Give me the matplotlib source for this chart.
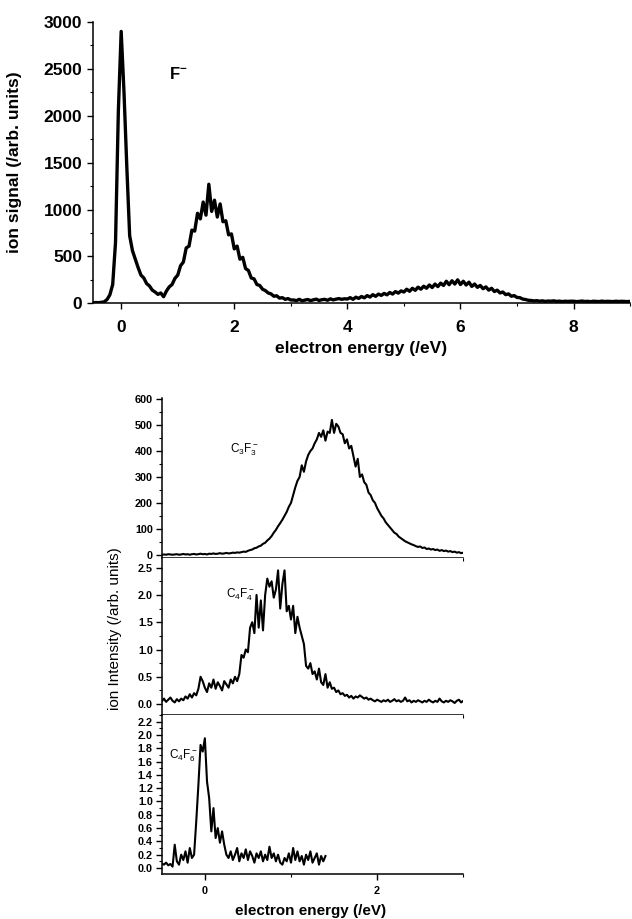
import numpy as np
import matplotlib
matplotlib.use("Agg")
import matplotlib.pyplot as plt
from matplotlib.ticker import MultipleLocator, FormatStrFormatter

plt.rcParams["font.family"] = ["Liberation Sans", "DejaVu Sans"]
plt.rcParams["mathtext.fontset"] = "custom"
plt.rcParams["mathtext.rm"] = "Liberation Sans"
plt.rcParams["mathtext.bf"] = "Liberation Sans:bold"

# F- yield, 0.05 eV steps starting at -0.5 eV
F_STEP, F_START = 0.05, -0.5
f_signal = [
    5, 8, 6, 10, 15, 40, 90, 200, 650, 2050,
    2900, 2250, 1450, 720, 560, 470, 380, 300, 270, 210,
    185, 140, 120, 95, 110, 70,
    130, 175, 200, 265, 300, 400, 440, 590, 610, 780,
    770, 960, 900, 1080, 940, 1270, 980, 1100, 920, 1060,
    870, 880, 730, 740, 580, 610, 470, 490, 370, 350,
    270, 260, 200, 190, 150, 135, 110, 100, 75, 80,
    55, 60, 42, 50, 35,
    35, 28, 42, 26, 34, 40, 28, 37, 44, 30, 38, 42, 32, 47, 36, 44, 50, 42, 48,
    45, 60, 42, 65, 52, 72, 58, 82, 66, 92, 74, 98, 84, 105, 90, 115, 98, 125, 108, 132,
    120, 150, 128, 160, 138, 172, 150, 182, 160, 195, 168, 205, 178, 215, 190, 235, 198, 240, 205, 250,
    200, 235, 195, 225, 180, 205, 170, 190, 155, 175, 140, 160, 125, 140, 110, 120, 92, 100, 75, 82,
    62, 60, 45, 40, 32, 30, 25, 28, 22, 26, 20, 24, 22, 26, 20, 23, 18, 22, 20, 22,
    22, 18, 20, 24, 19, 21, 17, 22, 20, 18, 23, 19, 21, 20, 18, 22, 19, 21, 20, 18, 20,
]

# fragment ions, 0.025 eV steps starting at -0.5 eV
FRAG_STEP, FRAG_START = 0.025, -0.5
c3f3 = [
    0, 1, 0, 2, 1, 0, 1, 2, 0, 1, 3, 1, 2, 0, 2, 3, 1, 2, 4, 2,
    3, 1, 4, 3, 5, 3, 4, 6, 4, 5, 7, 5, 6, 8, 7, 9, 8,
    10, 12, 11, 15, 18, 20, 25, 27, 32, 35, 42, 46, 55, 62, 72, 85, 96, 110, 122, 135,
    150, 165, 185, 200, 230, 260, 285, 300, 345, 320, 360, 385, 400, 410, 430, 445,
    470, 455, 480, 440, 475, 470, 520, 470, 505, 495, 470, 465, 430, 445, 410, 420,
    380, 340, 370, 300, 310, 280, 270, 240, 230, 210, 200, 180, 165, 150, 140, 125,
    115, 105, 95, 85, 80, 70, 64, 58, 52, 48, 44, 40, 37, 33, 30, 32, 26, 28, 22, 24,
    20, 22, 18, 20, 15, 18, 14, 16, 12, 14, 10, 12, 8, 10, 6, 8,
]
c4f4 = [
    0.05, 0.10, 0.04, 0.08, 0.12, 0.06, 0.03, 0.09, 0.05, 0.10, 0.07, 0.14, 0.10, 0.18, 0.12,
    0.20, 0.16, 0.28, 0.50, 0.42, 0.30, 0.22, 0.38, 0.30, 0.45,
    0.28, 0.40, 0.33, 0.25, 0.42, 0.36, 0.30, 0.45, 0.38, 0.50, 0.42, 0.55,
    0.90, 0.85, 1.00, 0.95, 1.40, 1.50, 1.30, 2.00, 1.40, 1.90, 1.35, 2.00,
    2.30, 2.15, 2.25, 1.95, 2.10, 2.45, 1.75, 2.20, 2.45, 1.70, 1.80, 1.55,
    1.80, 1.30, 1.60, 1.40, 1.25, 1.10, 0.70, 0.65, 0.75, 0.55,
    0.60, 0.45, 0.65, 0.40, 0.35, 0.55, 0.30, 0.40, 0.28, 0.30,
    0.22, 0.25, 0.18, 0.20, 0.15, 0.17, 0.12, 0.15, 0.10, 0.14,
    0.12, 0.16, 0.13, 0.10, 0.12, 0.08, 0.10, 0.07, 0.05, 0.08,
    0.06, 0.04, 0.07, 0.05, 0.08, 0.04, 0.06, 0.09, 0.05, 0.07,
    0.04, 0.06, 0.12, 0.05, 0.07, 0.03, 0.06, 0.04, 0.07, 0.05,
    0.03, 0.06, 0.04, 0.08, 0.05, 0.03, 0.06, 0.04, 0.10, 0.05,
    0.03, 0.06, 0.04, 0.07, 0.05, 0.02, 0.06, 0.08, 0.03, 0.06,
]
c4f6 = [
    0.07, 0.05, 0.08, 0.04, 0.06, 0.02, 0.35, 0.10, 0.05, 0.20, 0.12, 0.25, 0.08, 0.30, 0.15, 0.20,
    0.70, 1.25, 1.85, 1.75, 1.95, 1.30, 1.05, 0.55, 0.90, 0.45, 0.60, 0.38, 0.55, 0.35, 0.20,
    0.15, 0.25, 0.12, 0.20, 0.30, 0.10, 0.22, 0.15, 0.28, 0.12,
    0.25, 0.18, 0.08, 0.22, 0.15, 0.25, 0.10, 0.20, 0.12, 0.32,
    0.15, 0.22, 0.10, 0.20, 0.08, 0.05, 0.15, 0.10, 0.22, 0.08,
    0.30, 0.12, 0.25, 0.10, 0.18, 0.05, 0.20, 0.12, 0.25, 0.08,
    0.15, 0.22, 0.05, 0.18, 0.10, 0.18,
]


def energy_axis(values, start, step):
    return start + step * np.arange(len(values))


def style_axis(ax, fontsize, pad=3.5, weight="bold"):
    for side in ("top", "right"):
        ax.spines[side].set_visible(False)
    for side in ("left", "bottom"):
        ax.spines[side].set_linewidth(1.1)
    ax.tick_params(which="major", direction="out", length=4, width=1,
                   labelsize=fontsize, pad=pad)
    ax.tick_params(which="minor", direction="out", length=2, width=0.8)
    for lab in ax.get_xticklabels() + ax.get_yticklabels():
        lab.set_fontweight(weight)


fig = plt.figure(figsize=(6.32, 9.19), dpi=100)

# ---- F- from the full energy scan ----
ax = fig.add_axes([0.147, 0.670, 0.850, 0.306])
ax.plot(energy_axis(f_signal, F_START, F_STEP), f_signal, color="black", lw=2.4)
ax.set_xlim(-0.5, 9.0)
ax.set_ylim(0, 3000)
ax.xaxis.set_major_locator(MultipleLocator(2))
ax.xaxis.set_minor_locator(MultipleLocator(1))
ax.yaxis.set_major_locator(MultipleLocator(500))
ax.yaxis.set_minor_locator(MultipleLocator(250))
style_axis(ax, 12.5)
ax.tick_params(axis="x", which="major", pad=8)
ax.set_xlabel("electron energy (/eV)", fontsize=12.5, fontweight="bold")
ax.xaxis.set_label_coords(0.5, -0.135)
ax.set_ylabel("ion signal (/arb. units)", fontsize=12.5, fontweight="bold")
ax.yaxis.set_label_coords(-0.132, 0.5)
ax.text(0.85, 2450, r"$\mathbf{F}^{\mathbf{-}}$", fontsize=12, va="center")

# ---- fragment anions, stacked ----
panels = [
    (c3f3, [0.256, 0.393, 0.477, 0.174], (-12, 605), 100, 50, "%d",
     r"C$_3$F$_3^-$", (0.29, 404)),
    (c4f4, [0.256, 0.222, 0.477, 0.171], (-0.2, 2.68), 0.5, 0.25, "%.1f",
     r"C$_4$F$_4^-$", (0.24, 2.0)),
    (c4f6, [0.256, 0.049, 0.477, 0.173], (-0.09, 2.3), 0.2, 0.1, "%.1f",
     r"C$_4$F$_6^-$", (-0.42, 1.68)),
]

for i, (vals, rect, ylim, major, minor, fmt, name, pos) in enumerate(panels):
    ax = fig.add_axes(rect)
    ax.plot(energy_axis(vals, FRAG_START, FRAG_STEP), vals, color="black", lw=1.5)
    ax.set_xlim(-0.5, 3.0)
    ax.set_ylim(*ylim)
    ax.xaxis.set_major_locator(MultipleLocator(2))
    ax.xaxis.set_minor_locator(MultipleLocator(1))
    ax.yaxis.set_major_locator(MultipleLocator(major))
    ax.yaxis.set_minor_locator(MultipleLocator(minor))
    ax.yaxis.set_major_formatter(FormatStrFormatter(fmt))
    style_axis(ax, 7.8, pad=2.5)
    if i < 2:
        ax.tick_params(axis="x", labelbottom=False)
    ax.text(pos[0], pos[1], name, fontsize=8.5, va="center")

ax.tick_params(axis="x", which="major", pad=5)
ax.set_xlabel("electron energy (/eV)", fontsize=11, fontweight="bold")
ax.xaxis.set_label_coords(0.495, -0.19)

fig.text(0.182, 0.316, "ion Intensity (/arb. units)", rotation=90,
         fontsize=11, ha="center", va="center")

fig.savefig("out.png", dpi=100)
